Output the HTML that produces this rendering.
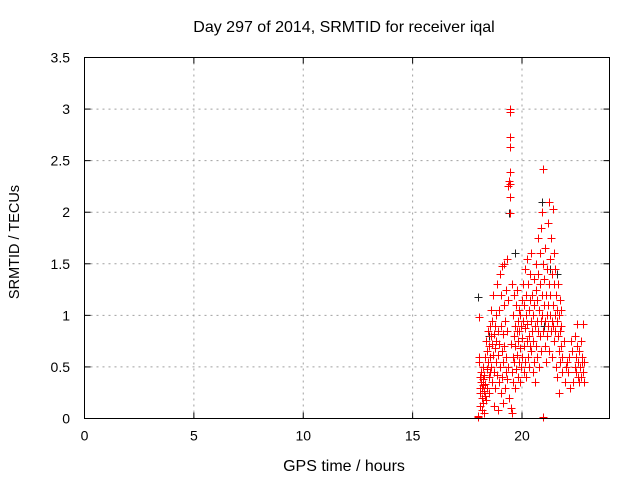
<!DOCTYPE html>
<html><head><meta charset="utf-8"><style>
html,body{margin:0;padding:0;background:#fff;}
svg text{font-family:"Liberation Sans",sans-serif;font-size:14px;fill:#000;}
</style></head><body>
<svg id="chart" width="640" height="480" xmlns="http://www.w3.org/2000/svg">
<text x="344" y="32" text-anchor="middle" style="font-size:16px">Day 297 of 2014, SRMTID for receiver iqal</text>
<text x="344" y="471" text-anchor="middle" style="font-size:16px">GPS time / hours</text>
<text transform="translate(19,242) rotate(-90)" text-anchor="middle" style="font-size:14.5px">SRMTID / TECUs</text>
<g id="grid"></g><g id="ticks"></g><g id="marks"></g>
<rect x="84.5" y="57.5" width="525" height="361" fill="none" stroke="#000" stroke-width="1"/>
</svg>
<script>
const xTicks=[0,5,10,15,20];
const yTicks=[0,0.5,1,1.5,2,2.5,3,3.5];
const yTickLabels=["0","0.5","1","1.5","2","2.5","3","3.5"];
const hours=[18.0,18.0,18.02,18.03,18.05,18.06,18.08,18.1,18.1,18.12,18.14,18.15,18.17,18.18,18.2,18.2,18.22,18.24,18.25,18.27,18.28,18.3,18.3,18.32,18.35,18.37,18.38,18.4,18.42,18.43,18.45,18.47,18.48,18.5,18.52,18.53,18.55,18.57,18.58,18.6,18.62,18.63,18.65,18.67,18.68,18.7,18.72,18.73,18.75,18.77,18.78,18.8,18.82,18.83,18.85,18.87,18.88,18.9,18.92,18.93,18.95,18.97,18.98,19.0,19.02,19.03,19.05,19.07,19.08,19.1,19.12,19.13,19.15,19.17,19.18,19.2,19.22,19.23,19.25,19.27,19.28,19.3,19.32,19.33,19.35,19.37,19.38,19.4,19.42,19.43,19.44,19.44,19.45,19.45,19.46,19.46,19.47,19.48,19.5,19.52,19.53,19.55,19.57,19.58,19.6,19.62,19.63,19.65,19.67,19.68,19.7,19.72,19.73,19.75,19.77,19.78,19.8,19.82,19.83,19.85,19.87,19.88,19.9,19.92,19.93,19.95,19.97,19.98,20.0,20.02,20.03,20.05,20.07,20.08,20.1,20.12,20.13,20.15,20.17,20.18,20.2,20.22,20.23,20.25,20.27,20.28,20.3,20.32,20.33,20.35,20.37,20.38,20.4,20.42,20.43,20.45,20.47,20.48,20.5,20.52,20.53,20.55,20.57,20.58,20.6,20.62,20.63,20.65,20.67,20.68,20.7,20.72,20.73,20.75,20.77,20.78,20.8,20.82,20.83,20.85,20.87,20.88,20.9,20.92,20.93,20.95,20.96,20.97,20.98,21.0,21.02,21.03,21.05,21.07,21.08,21.1,21.12,21.13,21.15,21.17,21.18,21.2,21.22,21.23,21.25,21.27,21.28,21.3,21.32,21.33,21.35,21.37,21.38,21.4,21.42,21.43,21.45,21.47,21.48,21.5,21.52,21.53,21.55,21.57,21.58,21.6,21.62,21.63,21.65,21.67,21.68,21.7,21.72,21.73,21.75,21.77,21.78,21.8,21.82,21.85,21.9,21.95,22.0,22.05,22.1,22.15,22.2,22.25,22.3,22.35,22.4,22.42,22.45,22.48,22.5,22.52,22.55,22.58,22.6,22.62,22.65,22.68,22.7,22.72,22.75,22.78,22.8,22.82,22.85];
const tecu=[0.01,0.02,0.55,0.6,0.98,0.3,0.25,0.4,0.12,0.35,0.45,0.2,0.3,0.08,0.5,0.32,0.15,0.38,0.27,0.05,0.42,0.22,0.6,0.33,0.18,0.75,0.48,0.3,0.65,0.85,0.55,0.4,0.25,0.7,0.9,0.6,0.45,0.8,1.05,0.5,0.72,0.35,0.95,0.62,1.2,0.82,0.45,0.12,0.68,0.9,0.3,1.0,0.55,0.75,1.3,0.42,0.08,0.85,0.62,1.05,0.35,0.72,1.4,0.5,0.9,0.25,1.2,0.65,0.4,1.48,0.82,0.15,0.55,1.1,0.7,1.5,0.3,0.95,0.45,1.25,0.6,1.55,0.38,0.85,2.25,0.5,1.15,2.3,0.2,3.0,2.97,2.73,2.63,2.39,2.27,2.15,1.99,0.72,0.1,0.45,1.3,0.05,0.6,1.0,0.35,0.8,1.2,0.55,0.9,0.3,0.7,1.1,0.48,0.85,0.62,1.25,0.4,0.95,0.75,0.55,1.05,0.85,0.35,0.68,1.0,0.5,0.9,1.15,0.78,0.6,1.3,0.95,0.45,1.1,0.7,1.45,0.88,0.55,1.2,1.0,0.4,0.75,1.55,0.92,0.6,1.3,0.8,1.05,0.5,1.4,0.7,1.15,0.95,0.65,1.6,0.85,1.2,0.45,1.0,0.75,1.35,0.55,1.1,0.9,0.35,1.25,0.7,1.5,0.95,0.6,1.15,1.75,0.85,1.4,0.5,1.05,1.6,0.8,1.3,0.95,1.85,0.65,1.2,2.0,1.0,0.01,2.42,1.5,0.85,1.1,1.35,0.7,0.95,1.65,1.2,0.55,1.0,1.45,0.8,1.1,1.9,0.9,2.1,1.3,0.65,1.55,1.0,1.2,0.85,1.75,0.95,1.4,0.6,1.1,2.03,0.9,1.3,1.6,0.75,1.0,1.45,0.85,0.5,1.2,0.95,1.05,0.4,0.8,1.3,0.65,1.0,0.25,0.85,1.15,0.55,0.9,0.7,1.05,0.45,0.6,0.75,0.35,0.5,0.55,0.45,0.6,0.3,0.75,0.65,0.35,0.5,0.8,0.45,0.6,0.92,0.7,0.4,0.55,0.35,0.65,0.5,0.75,0.4,0.55,0.6,0.45,0.92,0.35,0.55,0.7,0.4,0.6];
const blackHours=[18.0,18.5,19.4,19.7,20.9,21.0,21.3,21.6];
const blackTecu=[1.18,0.8,1.99,1.6,2.1,0.9,1.45,1.4];

const X0=84.5,X1=609.5,Y0=418.5,Y1=57.5;
const xS=v=>X0+v/24*(X1-X0);
const yS=v=>Y0-v/3.5*(Y0-Y1);
const NS="http://www.w3.org/2000/svg";
const grid=document.getElementById('grid'),ticks=document.getElementById('ticks'),marks=document.getElementById('marks');
function mk(tag,attrs,parent){const e=document.createElementNS(NS,tag);for(const k in attrs)e.setAttribute(k,attrs[k]);parent.appendChild(e);return e;}

xTicks.forEach(t=>{
  const x=xS(t);
  if(t>0){const g=mk('line',{x1:x,y1:Y0,x2:x,y2:Y1,stroke:'#a0a0a0','stroke-dasharray':'2,4'},grid);
  
  }
  const a=mk('line',{x1:x,y1:Y0,x2:x,y2:Y0-6,stroke:'#000'},ticks);
  
  
  const b=mk('line',{x1:x,y1:Y1,x2:x,y2:Y1+6,stroke:'#000'},ticks);
  
  
  const l=mk('text',{x:x,y:Y0+22,'text-anchor':'middle'},ticks);l.textContent=String(t);
  
  
});
yTicks.forEach((t,i)=>{
  const y=yS(t);
  if(t>0&&t<3.5){const g=mk('line',{x1:X0,y1:y,x2:X1,y2:y,stroke:'#a0a0a0','stroke-dasharray':'2,4'},grid);
  
  }
  const a=mk('line',{x1:X0,y1:y,x2:X0+6,y2:y,stroke:'#000'},ticks);
  
  
  const b=mk('line',{x1:X1,y1:y,x2:X1-6,y2:y,stroke:'#000'},ticks);
  
  
  const l=mk('text',{x:70,y:y+5,'text-anchor':'end'},ticks);l.textContent=yTickLabels[i];
  
  
});
function plus(h,v,color,name){
  const x=Math.round(xS(h))+0.5,y=Math.round(yS(v))+0.5;
  const p=mk('path',{d:`M${x-4},${y}H${x+4}M${x},${y-4}V${y+4}`,stroke:color,'stroke-width':1,fill:'none'},marks);
  
  
}
blackHours.forEach((h,i)=>plus(h,blackTecu[i],'#222','black-point'));
hours.forEach((h,i)=>plus(h,tecu[i],'#ff0000','srmtid-point'));
</script>
</body></html>
